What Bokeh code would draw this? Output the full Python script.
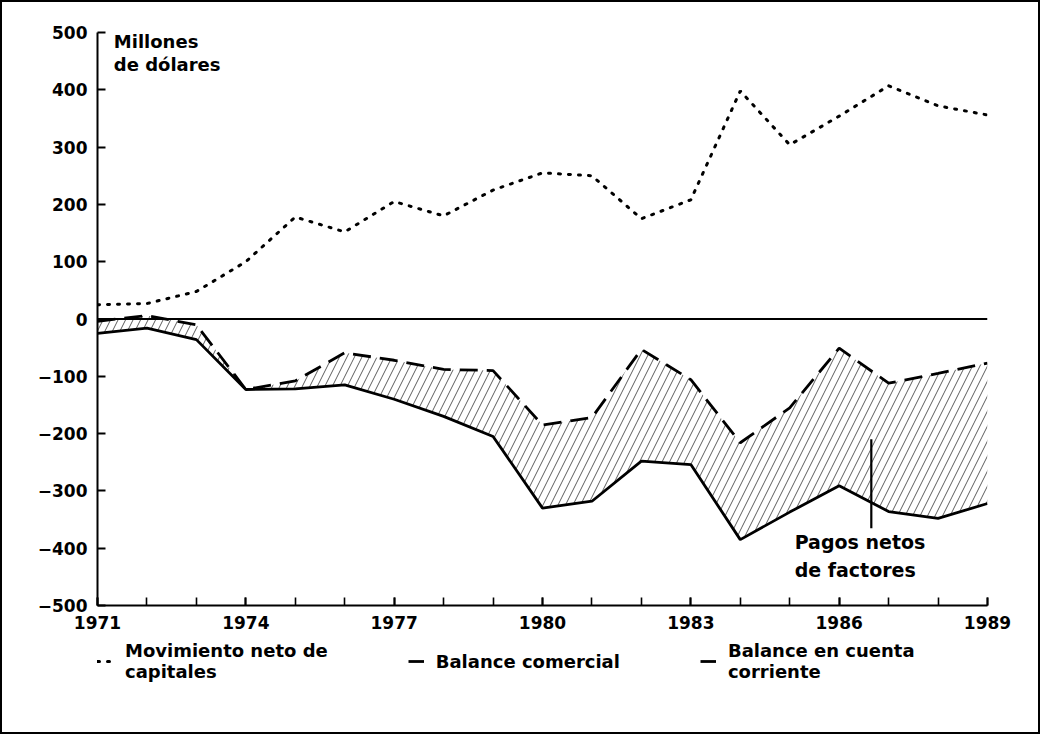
from bokeh.plotting import figure
from bokeh.layouts import column
from bokeh.models import FixedTicker, Span, Legend, LegendItem
from bokeh.core.properties import value
from bokeh.embed import file_html
from bokeh.resources import INLINE

years = list(range(1971, 1990))
capitales = [25, 27, 48, 100, 178, 152, 205, 180, 225, 255, 250, 175, 208, 398, 304, 354, 407, 372, 356]
comercial = [-4, 6, -10, -123, -108, -59, -72, -88, -90, -185, -172, -53, -106, -216, -155, -51, -112, -95, -77]
corriente = [-25, -16, -36, -123, -122, -115, -140, -170, -205, -330, -318, -248, -254, -385, -337, -291, -336, -348, -322]
year_labels = [1971, 1974, 1977, 1980, 1983, 1986, 1989]
y_ticks = list(range(-500, 501, 100))
legend_labels = ["Movimiento neto de\ncapitales", "Balance comercial", "Balance en cuenta\ncorriente"]

FONT = "DejaVu Sans"
CAP = dict(line_color="black", line_width=3, line_dash="2 8", line_cap="round")
COM = dict(line_color="black", line_width=2.8, line_dash="18 9")
COR = dict(line_color="black", line_width=2.8)

p = figure(frame_width=890, frame_height=573, x_range=(1971, 1989), y_range=(-500, 500),
           output_backend="svg", toolbar_location=None,
           min_border_left=95, min_border_right=51, min_border_top=30, min_border_bottom=35)
p.outline_line_color = None
p.xgrid.visible = False
p.ygrid.visible = False
p.background_fill_color = "white"
p.border_fill_color = "white"

# hatched area between trade balance and current account
p.varea(x=years, y1=comercial, y2=corriente, fill_alpha=0, hatch_pattern="/",
        hatch_color="black", hatch_scale=15, hatch_weight=0.8, hatch_alpha=0.8)

p.add_layout(Span(location=0, dimension="width", line_color="black", line_width=1.8))

p.line(years, capitales, **CAP)
p.line(years, comercial, **COM)
p.line(years, corriente, **COR)

# annotation pointer
ann_x = 1986.65
p.segment(x0=[ann_x], y0=[-210], x1=[ann_x], y1=[-365], line_color="black", line_width=2.2)
p.text(x=[1985.1, 1985.1], y=[-389, -438], text=["Pagos netos", "de factores"],
       text_font=value(FONT), text_font_size="19px", text_font_style="bold",
       text_baseline="middle", text_align="left")

p.text(x=[1971.33, 1971.33], y=[484, 444], text=["Millones", "de dólares"],
       text_font=value(FONT), text_font_size="18px", text_font_style="bold",
       text_baseline="middle", text_align="left")

# axes
p.xaxis.ticker = FixedTicker(ticks=year_labels, minor_ticks=years)
p.yaxis.ticker = FixedTicker(ticks=y_ticks)
for ax in (p.xaxis, p.yaxis):
    ax.axis_line_width = 2
    ax.axis_line_color = "black"
    ax.major_tick_in = 8
    ax.major_tick_out = 0
    ax.major_tick_line_width = 2
    ax.major_tick_line_color = "black"
    ax.major_label_text_font = FONT
    ax.major_label_text_font_size = "17px"
    ax.major_label_text_font_style = "bold"
    ax.major_label_text_color = "black"
p.xaxis.minor_tick_in = 8
p.xaxis.minor_tick_out = 0
p.xaxis.minor_tick_line_width = 1.6
p.xaxis.minor_tick_line_color = "black"
p.yaxis.minor_tick_line_color = None
p.xaxis.major_label_standoff = 10
p.yaxis.major_label_standoff = 10

# legend strip below the chart (proxy renderers lie outside its view)
leg = figure(width=1036, height=92, x_range=(0, 1), y_range=(0, 1),
             x_axis_type=None, y_axis_type=None, output_backend="svg",
             toolbar_location=None, min_border_left=75, min_border_right=0,
             min_border_top=0, min_border_bottom=0)
leg.outline_line_color = None
leg.xgrid.visible = False
leg.ygrid.visible = False
proxy_x = [5, 6]
proxy_y = [5, 6]
g1 = leg.line(x=proxy_x, y=proxy_y, **CAP)
g2 = leg.line(x=proxy_x, y=proxy_y, **COM)
g3 = leg.line(x=proxy_x, y=proxy_y, **COR)
legend = Legend(items=[LegendItem(label=legend_labels[0], renderers=[g1]),
                       LegendItem(label=legend_labels[1], renderers=[g2]),
                       LegendItem(label=legend_labels[2], renderers=[g3])],
                orientation="horizontal", location="top_left",
                label_text_font=FONT, label_text_font_size="18px",
                label_text_font_style="bold", label_text_color="black",
                label_text_line_height=1.4,
                glyph_width=16, glyph_height=18, label_standoff=12, spacing=80,
                border_line_color=None, background_fill_alpha=0,
                margin=0, padding=0)
leg.add_layout(legend)

layout = column(p, leg, spacing=0)
layout.styles = {"border": "2px solid black", "background-color": "white"}

open("out.html", "w").write(file_html(layout, INLINE))
